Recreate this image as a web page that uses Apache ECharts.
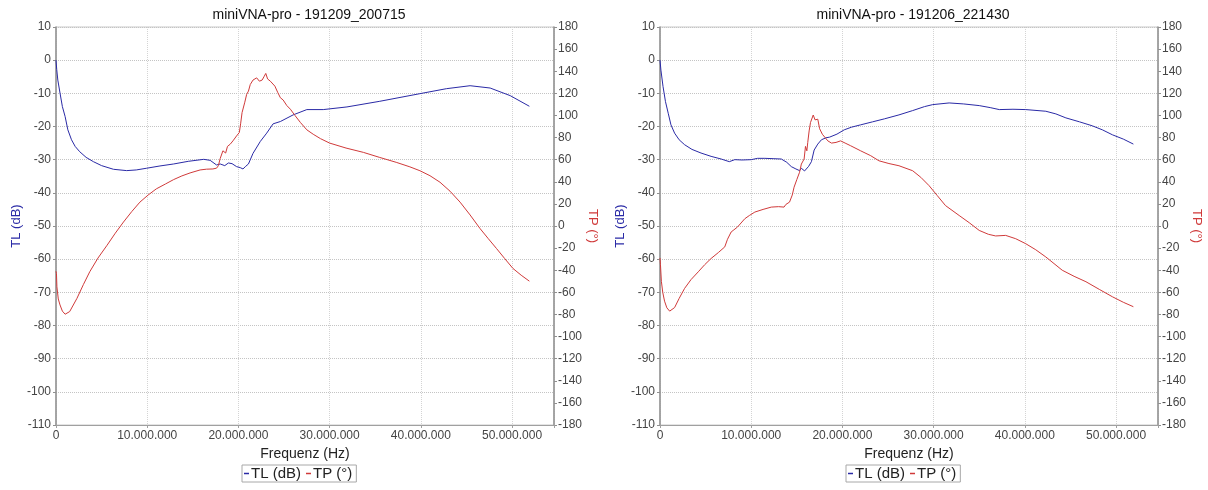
<!DOCTYPE html>
<html>
<head>
<meta charset="utf-8">
<script src="https://cdn.jsdelivr.net/npm/echarts@6/dist/echarts.min.js"></script>
<style>
  html, body { margin: 0; padding: 0; background: #fff; }
  #chart { width: 1208px; height: 490px; }
</style>
</head>
<body>
<div id="chart"></div>
<script>
// Frequenz in MHz
const titles = ["miniVNA-pro - 191209_200715", "miniVNA-pro - 191206_221430"];

// links: 191209_200715
const leftFreqTL = [0, 0.08, 0.2, 0.44, 0.7, 1.0, 1.3, 1.7, 2.1, 2.6, 3.3, 4.1, 5.0, 6.3, 7.75, 8.8, 9.9, 11.4, 12.9, 14.5, 16.2, 16.9, 17.6, 18.0, 18.5, 18.9, 19.3, 19.8, 20.2, 20.5, 20.8, 21.1, 21.6, 22.4, 23.1, 23.8, 24.6, 26.0, 27.5, 29.3, 31.9, 35.5, 39.9, 42.8, 45.4, 47.6, 49.8, 51.9];
const leftTL = [0, -2.8, -6, -9.9, -14, -17, -21, -24, -26, -27.6, -29.3, -30.6, -31.8, -32.9, -33.3, -33.1, -32.6, -31.9, -31.3, -30.5, -29.9, -30.2, -31.6, -31.3, -31.8, -31.0, -31.2, -32.1, -32.4, -32.8, -32.0, -31.3, -28.1, -24.5, -22, -19.2, -18.5, -16.5, -14.9, -14.9, -14.1, -12.4, -10.1, -8.6, -7.7, -8.4, -10.7, -13.9];

const leftFreqTP = [0, 0.05, 0.1, 0.25, 0.44, 0.7, 1.0, 1.5, 2.3, 3.0, 3.7, 4.6, 5.6, 6.5, 7.4, 8.3, 9.2, 10.1, 11.0, 12.0, 12.9, 13.8, 14.7, 15.8, 16.5, 17.2, 17.6, 17.8, 18.0, 18.3, 18.6, 18.8, 19.1, 19.4, 19.6, 19.8, 20.1, 20.25, 20.4, 20.7, 20.9, 21.1, 21.3, 21.6, 22.0, 22.3, 22.6, 22.8, 23.0, 23.2, 23.5, 24.0, 24.3, 24.6, 24.9, 25.3, 25.7, 26.2, 26.8, 27.5, 28.2, 29.0, 30.0, 31.8, 33.7, 35.5, 37.3, 38.8, 39.9, 41.0, 42.1, 43.2, 44.3, 45.4, 46.5, 47.4, 48.3, 49.2, 50.1, 51.0, 51.9];
const leftTP = [-41, -43, -55, -66, -71.4, -77, -79.8, -77.4, -65.4, -53, -41.4, -29, -17.4, -6.5, 3.6, 13, 21.6, 28, 33.6, 38, 42, 45.3, 48, 50.7, 51.4, 51.6, 52.3, 54.5, 61, 68, 66, 72, 74, 77, 76, 81.5, 84.6, 93, 102.6, 112, 119, 122, 128, 132, 134, 131, 132, 135, 138, 133, 131, 126.5, 121, 116, 114, 109, 105.6, 100, 93.6, 87, 83, 79, 75, 70.5, 66.6, 62, 57.6, 53.5, 50, 45.5, 39.6, 31.5, 21.6, 10, -2.4, -11.5, -20.4, -29.5, -38.4, -44.5, -49.9];

// rechts: 191206_221430
const rightFreqTL = [0, 0.1, 0.33, 0.6, 0.9, 1.2, 1.6, 2.1, 2.7, 3.5, 4.5, 5.6, 6.7, 7.6, 8.2, 9.0, 10.0, 10.7, 11.5, 12.4, 13.3, 13.9, 14.4, 14.9, 15.3, 15.5, 15.7, 15.85, 16.0, 16.3, 16.6, 16.9, 17.3, 17.7, 18.2, 18.6, 19.4, 20.2, 21.0, 22.0, 23.3, 24.6, 26.2, 27.7, 29.0, 29.9, 31.7, 33.3, 35.0, 36.2, 37.2, 38.7, 40.1, 42.3, 43.4, 44.5, 46.0, 47.4, 48.5, 49.6, 50.8, 51.9];
const rightTL = [0, -3, -7.9, -12.5, -16, -19.5, -22, -24, -25.5, -26.9, -28, -29, -29.8, -30.6, -30, -30.1, -30, -29.6, -29.6, -29.7, -29.8, -30.8, -32.1, -32.8, -33.3, -32.6, -32.5, -33.4, -33.6, -32, -30.6, -27.1, -25.3, -24, -23.4, -23.2, -22.3, -21, -20.2, -19.5, -18.6, -17.7, -16.5, -15.2, -14.0, -13.4, -12.9, -13.2, -13.7, -14.3, -14.9, -14.8, -14.9, -15.4, -16.2, -17.4, -18.6, -19.8, -21, -22.5, -23.8, -25.3];

const rightFreqTP = [0, 0.05, 0.15, 0.3, 0.5, 0.75, 1.06, 1.6, 2.1, 2.7, 3.4, 4.2, 4.9, 5.6, 6.4, 7.1, 7.4, 7.8, 8.1, 8.5, 9.3, 9.8, 10.4, 11.3, 12.2, 13.0, 13.6, 13.8, 14.2, 14.5, 14.7, 15.0, 15.3, 15.5, 15.8, 15.95, 16.1, 16.2, 16.35, 16.5, 16.8, 17.0, 17.3, 17.5, 17.8, 18.1, 18.4, 18.8, 19.3, 19.8, 20.3, 20.9, 22.0, 23.1, 24.0, 25.1, 26.2, 27.7, 28.6, 29.5, 30.4, 31.3, 32.8, 33.9, 35.0, 36.0, 36.8, 37.9, 39.0, 40.1, 41.2, 42.3, 43.2, 44.1, 45.4, 46.7, 48.2, 49.6, 50.8, 51.9];
const rightTP = [-29, -35, -50, -60, -68, -74, -77, -73.8, -65.5, -56.4, -48.5, -41.4, -35, -29.4, -24, -18.9, -12, -5.4, -3.5, -0.9, 6.6, 9.5, 12.6, 15, 17.1, 17.5, 17.1, 19.5, 21.6, 28, 35.1, 42, 48.6, 56, 60.6, 72, 68, 75.6, 86, 93.6, 100.4, 96, 96.6, 88, 83, 80, 77, 75, 75.6, 77, 75, 72.6, 68, 63.6, 59, 56.5, 54.5, 50, 44, 36.5, 27.5, 18.5, 9.5, 3, -4, -7.5, -9, -8.5, -11.5, -16, -21.5, -28, -34, -40, -45.5, -50.4, -57.5, -64, -69, -73];

const xTicks = [0, 10, 20, 30, 40, 50]; // MHz
const tlColor = "#2a2aa6";
const tpColor = "#d03a3a";

const toPairs = (f, v) => f.map((x, i) => [x * 1e6, v[i]]);
const fmtHz = (val) => {
  if (xTicks.indexOf(val / 1e6) < 0) return "";
  return String(val).replace(/\B(?=(\d{3})+(?!\d))/g, ".");
};

const font = "Liberation Sans, Arial, sans-serif";
const offsets = [0, 604];

const grids = offsets.map(o => ({
  left: 56 + o, width: 498, top: 27, height: 398,
  show: true, borderColor: "#c8c8c8", borderWidth: 1, backgroundColor: "#fff"
}));

const xAxes = offsets.map((o, i) => ({
  type: "value", gridIndex: i, position: "bottom", min: 0, max: 54.6e6, interval: 10e6,
  name: "Frequenz (Hz)", nameLocation: "middle", nameGap: 22,
  nameTextStyle: { color: "#222", fontSize: 14, fontFamily: font },
  axisLine: { onZero: false, lineStyle: { color: "#a0a0a0" } },
  axisTick: { show: true, length: 3, lineStyle: { color: "#a0a0a0" } },
  axisLabel: { color: "#444", fontSize: 12, fontFamily: font, formatter: fmtHz, margin: 5 },
  splitLine: { show: true, lineStyle: { color: "#d4d4d4", type: "dotted" } }
}));

const yAxes = [];
offsets.forEach((o, i) => {
  yAxes.push({
    type: "value", gridIndex: i, position: "left", min: -110, max: 10, interval: 10,
    name: "TL (dB)", nameLocation: "middle", nameGap: 31,
    nameTextStyle: { color: tlColor, fontSize: 13, fontFamily: font },
    axisLine: { show: true, onZero: false, lineStyle: { color: "#909090", width: 1.5 } },
    axisTick: { show: true, length: 3, lineStyle: { color: "#909090" } },
    axisLabel: { color: "#444", fontSize: 12, fontFamily: font, margin: 5 },
    splitLine: { show: true, lineStyle: { color: "#c4c4c4", type: "dotted" } }
  });
  yAxes.push({
    type: "value", gridIndex: i, position: "right", min: -180, max: 180, interval: 20,
    name: "TP (°)", nameLocation: "middle", nameGap: 31, nameRotate: -90,
    nameTextStyle: { color: tpColor, fontSize: 13, fontFamily: font },
    axisLine: { show: true, onZero: false, lineStyle: { color: "#909090", width: 1.5 } },
    axisTick: { show: true, length: 3, lineStyle: { color: "#909090" } },
    axisLabel: { color: "#444", fontSize: 12, fontFamily: font, margin: 4 },
    splitLine: { show: false }
  });
});

const lineSeries = (name, data, xi, yi, color) => ({
  name: name, type: "line", xAxisIndex: xi, yAxisIndex: yi, data: data,
  showSymbol: false, symbol: "none", lineStyle: { color: color, width: 1 }, itemStyle: { color: color }
});

const option = {
  animation: false,
  backgroundColor: "#fff",
  title: offsets.map((o, i) => ({
    text: titles[i], left: 304 + o, top: 3, textAlign: "center",
    textStyle: { color: "#111", fontSize: 14, fontWeight: "normal", fontFamily: font }
  })),
  legend: offsets.map(o => ({
    data: ["TL (dB)", "TP (°)"], left: 242 + o, top: 465,
    icon: "rect", itemWidth: 5, itemHeight: 1.5, itemGap: 5,
    borderColor: "#a8a8a8", borderWidth: 1, padding: [1, 4, 1, 2],
    textStyle: { color: "#222", fontSize: 15, fontFamily: font, padding: [0, 0, 0, -3] }
  })),
  grid: grids,
  xAxis: xAxes,
  yAxis: yAxes,
  series: [
    lineSeries("TL (dB)", toPairs(leftFreqTL, leftTL), 0, 0, tlColor),
    lineSeries("TP (°)", toPairs(leftFreqTP, leftTP), 0, 1, tpColor),
    lineSeries("TL (dB)", toPairs(rightFreqTL, rightTL), 1, 2, tlColor),
    lineSeries("TP (°)", toPairs(rightFreqTP, rightTP), 1, 3, tpColor)
  ]
};

const myChart = echarts.init(document.getElementById("chart"));
myChart.setOption(option);
</script>
</body>
</html>
